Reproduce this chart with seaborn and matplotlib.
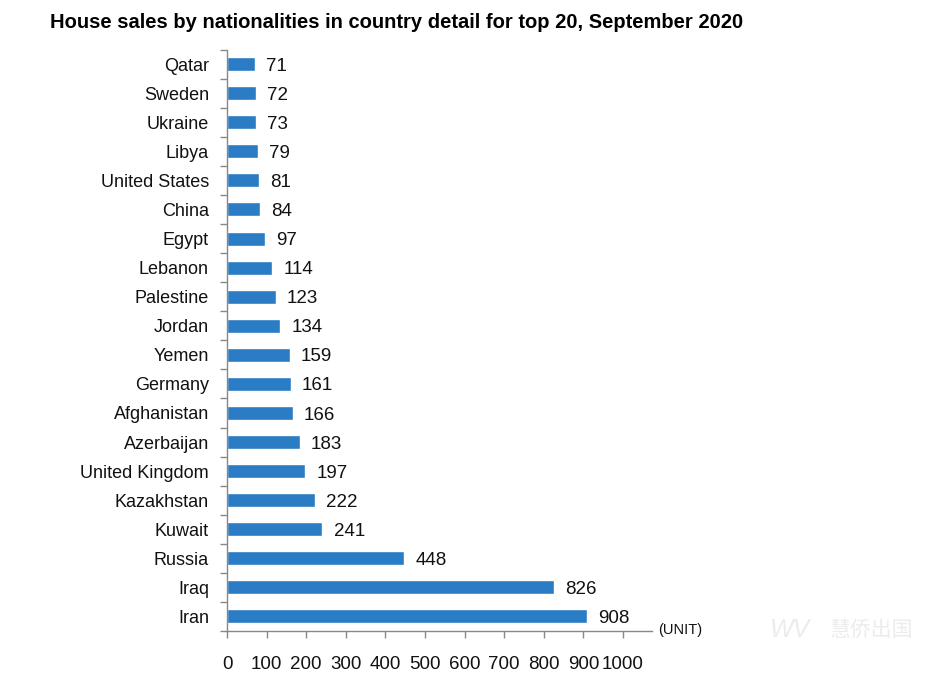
import matplotlib
matplotlib.use("Agg")
import matplotlib.pyplot as plt
import seaborn as sns
import pandas as pd
import numpy as np
from matplotlib.ticker import FixedLocator

countries = ["Qatar", "Sweden", "Ukraine", "Libya", "United States", "China", "Egypt",
             "Lebanon", "Palestine", "Jordan", "Yemen", "Germany", "Afghanistan",
             "Azerbaijan", "United Kingdom", "Kazakhstan", "Kuwait", "Russia", "Iraq", "Iran"]
sales = [71, 72, 73, 79, 81, 84, 97, 114, 123, 134, 159, 161, 166, 183, 197, 222, 241, 448, 826, 908]
x_ticks = [0, 100, 200, 300, 400, 500, 600, 700, 800, 900, 1000]

title = "House sales by nationalities in country detail for top 20, September 2020"
bar_color = "#2A7DC4"

sns.set_theme(style="white")
plt.rcParams['font.family'] = ['Liberation Sans', 'DejaVu Sans']

df = pd.DataFrame({"country": countries, "sales": sales})

fig = plt.figure(figsize=(9.37, 6.84), dpi=100)
ax = fig.add_axes([0.2423, 0.0775, 0.4535, 0.850])

sns.barplot(data=df, y="country", x="sales", orient="h", color=bar_color,
            saturation=1, width=0.48, ax=ax, order=countries)

ax.set_xlim(0, 1073)
ax.set_ylim(len(countries) - 0.5, -0.5)
ax.set_xlabel("")
ax.set_ylabel("")
ax.set_xticks(x_ticks)
ax.set_xticklabels([str(t) for t in x_ticks], fontsize=13.5, color="#111111")

for i, v in enumerate(sales):
    ax.annotate(str(v), xy=(v, i), xytext=(8, -1.5), textcoords="offset points",
                va="center", ha="left", fontsize=13.5, color="#111111")

ax.tick_params(axis="y", which="major", length=0, pad=13, labelsize=13, labelcolor="#111111")
ax.yaxis.set_minor_locator(FixedLocator(np.arange(-0.5, len(countries) + 0.5, 1)))
ax.tick_params(axis="y", which="minor", length=5, width=1, color="#888888", left=True)
ax.tick_params(axis="x", which="major", length=5, width=1, color="#888888", bottom=True,
               pad=13, direction="out")

for s in ["top", "right"]:
    ax.spines[s].set_visible(False)
for s in ["left", "bottom"]:
    ax.spines[s].set_color("#888888")
    ax.spines[s].set_linewidth(1)

fig.text(50 / 937, 1 - 22 / 684, title, fontsize=14.5, fontweight="bold", ha="left",
         va="center", color="#000000")
fig.text(658 / 937, 1 - 630 / 684, "(UNIT)", fontsize=10.5, ha="left", va="center",
         color="#111111")

# faint watermark
fig.text(830 / 937, 1 - 630 / 684, "慧侨出国", fontsize=15, ha="left", va="center",
         color="#ececec", family=["Noto Sans CJK SC", "DejaVu Sans"])
fig.text(770 / 937, 1 - 630 / 684, "WV", fontsize=18, ha="left", va="center",
         color="#ececec", fontstyle="italic")

fig.savefig("out.png", dpi=100)
